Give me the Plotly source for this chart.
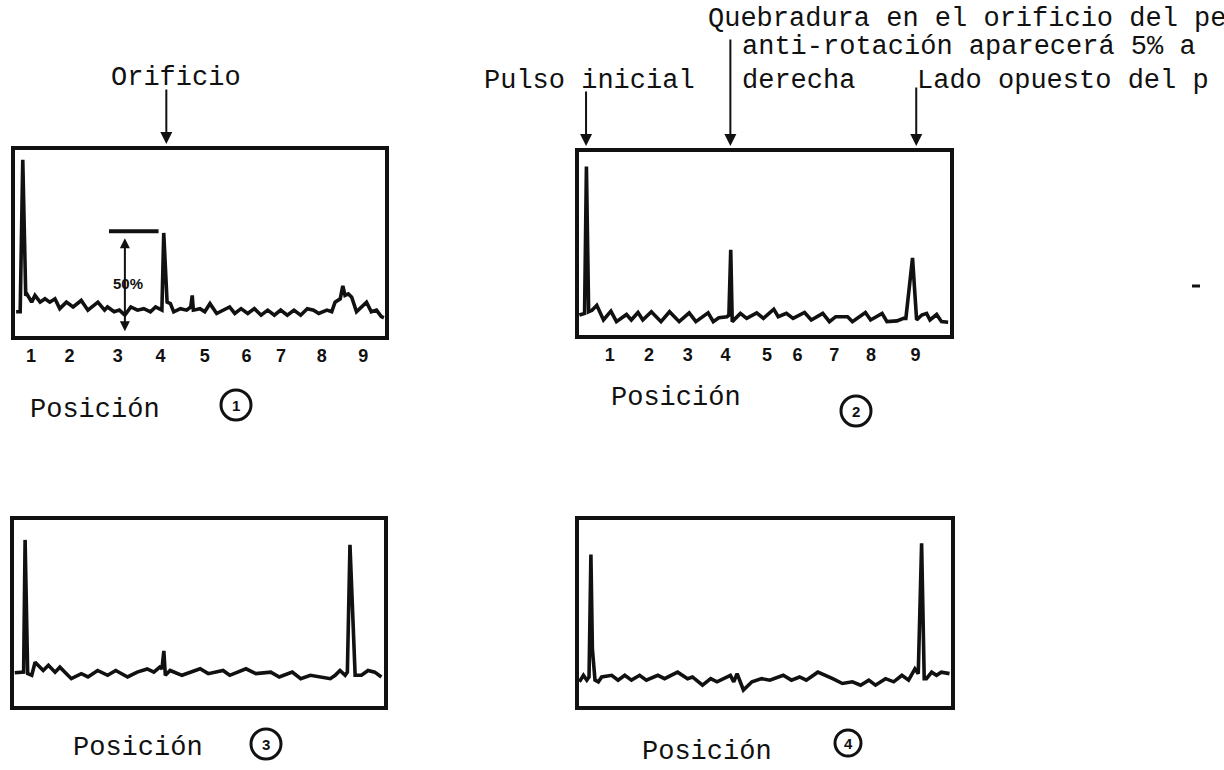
import plotly.graph_objects as go

# ---------------- data (x: % of screen width, y: % of screen height) ----------------
p1_x = [0.3, 1.4, 2.1, 2.9, 3.2, 4.5, 5.4, 6.8, 8.1, 9.4, 10.8, 12.1, 13.9, 15.7, 17.9, 19.7, 22.4, 24.2, 25.0, 26.8,
        28.2, 29.7, 31.3, 33.1, 34.8, 36.6, 38.0, 39.1, 39.7, 40.2, 41.1, 42.0, 42.9, 44.7, 46.4, 47.5, 47.9, 48.2, 50.0, 51.3,
        52.7, 54.5, 56.2, 58.0, 59.4, 61.1, 62.9, 64.7, 66.5, 68.3, 70.1, 71.8, 73.6, 75.4, 77.2, 79.0, 80.7, 82.1, 84.3, 85.6,
        86.5, 87.9, 88.6, 89.2, 90.1, 91.0, 92.3, 93.7, 95.0, 96.3, 97.7, 99.0, 99.7]
p1_y = [13.0, 13.0, 94.7, 21.7, 22.6, 18.2, 21.8, 18.2, 20.0, 18.2, 20.0, 14.7, 18.2, 15.6, 19.1, 13.9, 18.2, 13.9, 15.6, 13.0,
        13.9, 11.2, 15.6, 13.9, 14.7, 13.0, 15.6, 14.7, 13.9, 55.4, 18.2, 17.4, 13.0, 14.7, 13.9, 15.6, 21.8, 13.9, 14.7, 13.0,
        17.4, 12.1, 13.9, 15.6, 12.1, 14.7, 12.1, 14.7, 11.2, 13.9, 11.2, 13.9, 11.2, 13.9, 11.2, 14.7, 13.9, 12.1, 13.9, 13.0,
        18.2, 20.0, 27.0, 21.8, 22.6, 20.9, 13.0, 15.6, 18.2, 13.0, 13.9, 10.4, 9.8]

p2_x = [0.1, 1.2, 1.5, 2.0, 2.6, 3.5, 4.8, 6.6, 8.6, 10.1, 12.8, 14.1, 15.9, 17.2, 19.5, 22.1, 24.4, 27.0, 29.7, 31.5,
        34.8, 36.2, 37.7, 39.9, 40.4, 40.9, 41.3, 43.5, 45.2, 47.9, 49.7, 52.5, 53.7, 55.9, 57.7, 60.8, 62.6, 65.7, 67.5, 69.2,
        72.4, 73.7, 77.2, 78.6, 81.7, 83.0, 85.7, 87.5, 88.1, 89.9, 91.0, 92.4, 93.7, 94.6, 96.4, 97.7, 99.5]
p2_y = [10.9, 11.8, 11.8, 92.0, 12.7, 13.5, 16.2, 8.2, 13.0, 7.3, 11.2, 8.2, 12.3, 8.2, 12.7, 7.3, 12.7, 7.3, 12.1, 7.3,
        12.1, 7.3, 9.4, 10.0, 10.9, 46.5, 7.3, 11.8, 9.1, 12.1, 9.1, 14.1, 10.0, 11.8, 9.1, 12.3, 8.2, 11.8, 7.3, 10.0,
        10.0, 7.3, 12.3, 8.2, 11.8, 7.3, 7.7, 9.1, 9.1, 42.1, 8.2, 10.9, 11.8, 8.2, 11.2, 7.3, 7.0]

p3_x = [0.2, 2.6, 3.0, 3.7, 4.8, 5.7, 7.9, 9.3, 11.1, 12.4, 15.5, 18.2, 20.0, 22.6, 25.3, 27.5, 30.7, 33.3, 36.0, 37.8,
        39.4, 40.0, 40.5, 40.9, 42.2, 45.4, 50.3, 52.5, 56.5, 58.3, 62.7, 65.4, 69.4, 71.7, 75.2, 77.5, 80.1, 83.2, 85.5, 86.8,
        88.1, 89.5, 90.1, 90.8, 92.2, 93.9, 95.7, 97.5, 99.3]
p3_y = [17.9, 18.2, 89.3, 17.4, 16.5, 23.5, 19.1, 21.9, 18.2, 20.9, 14.7, 17.4, 15.6, 19.1, 16.5, 19.1, 15.6, 18.2, 19.9, 18.2,
        20.9, 20.0, 29.6, 16.5, 19.1, 16.5, 20.0, 17.4, 19.1, 16.5, 20.0, 17.4, 18.2, 15.6, 18.2, 14.7, 16.5, 15.6, 14.7, 16.5,
        19.1, 16.5, 18.2, 86.7, 16.5, 16.5, 19.1, 18.2, 15.6]

p4_x = [0.1, 1.2, 2.1, 2.7, 3.2, 3.6, 4.3, 5.2, 6.1, 8.8, 10.5, 12.3, 14.1, 16.3, 18.1, 21.2, 23.0, 26.5, 29.2, 30.5,
        33.2, 35.4, 37.1, 40.7, 41.6, 42.5, 44.2, 46.5, 49.1, 51.3, 54.9, 57.1, 59.3, 61.1, 64.2, 66.4, 68.2, 70.8, 73.5, 75.7,
        77.9, 79.7, 82.4, 84.6, 86.8, 88.6, 90.3, 91.2, 92.1, 92.8, 93.4, 94.8, 96.1, 97.4, 99.6]
p4_y = [13.0, 16.5, 13.9, 15.6, 81.4, 30.5, 13.9, 13.0, 15.6, 16.5, 13.9, 16.5, 13.9, 16.5, 13.9, 16.5, 14.7, 18.2, 14.7, 15.6,
        11.2, 14.7, 13.0, 16.5, 13.0, 17.4, 8.6, 13.0, 14.7, 13.9, 16.5, 13.9, 15.6, 13.9, 18.2, 16.5, 14.7, 12.1, 13.0, 11.2,
        13.9, 11.2, 14.7, 13.0, 16.5, 13.9, 20.0, 17.4, 87.5, 14.7, 14.7, 18.2, 16.5, 18.2, 17.4]

tick_labels = ["1", "2", "3", "4", "5", "6", "7", "8", "9"]
p1_ticks = [4.3, 14.7, 27.8, 39.3, 51.3, 62.6, 71.9, 82.9, 94.1]
p2_ticks = [8.3, 18.9, 29.3, 39.5, 50.7, 58.9, 68.8, 78.7, 90.7]

ref_level = 56.3          # 50% reference bar height (panel 1)
ref_bar = [25.4, 38.8]    # extent of the reference bar
ref_arrow_x = 29.7

W, H = 1224, 770
MONO = "Liberation Mono, Courier New, monospace"
INK = "#111111"
LW = 4  # frame line width

fig = go.Figure()

panels = [
    (p1_x, p1_y, "x", "y"),
    (p2_x, p2_y, "x2", "y2"),
    (p3_x, p3_y, "x3", "y3"),
    (p4_x, p4_y, "x4", "y4"),
]
for xs, ys, xa, ya in panels:
    fig.add_trace(go.Scatter(x=xs, y=ys, xaxis=xa, yaxis=ya, mode="lines",
                             line=dict(color=INK, width=3.6), hoverinfo="skip", showlegend=False))

def px2x(px):
    return px / W

def py2y(py):
    return 1 - py / H

# frame centre-lines (pixels): left, right, top, bottom; the axis line sits outside the domain
frames = {
    1: (13, 387, 148, 338),
    2: (577, 952, 150, 337),
    3: (12, 386, 518, 708),
    4: (577, 953, 518, 708),
}

layout = dict(width=W, height=H, margin=dict(l=0, r=0, t=0, b=0),
              paper_bgcolor="white", plot_bgcolor="white", showlegend=False)
h = LW / 2
for i in range(1, 5):
    l, r, t, b = frames[i]
    xd = [px2x(l + h), px2x(r - h)]
    yd = [py2y(b - h), py2y(t + h)]
    sx = "" if i == 1 else str(i)
    xax = dict(domain=xd, range=[0, 100], showgrid=False, zeroline=False,
               showline=True, mirror=True, linecolor=INK, linewidth=LW,
               anchor="y" + sx, fixedrange=True)
    if i in (1, 2):
        xax.update(tickmode="array", tickvals=p1_ticks if i == 1 else p2_ticks,
                   ticktext=tick_labels, ticks="", showticklabels=True,
                   tickfont=dict(family="Liberation Sans Narrow, Liberation Sans, Arial", size=18,
                                 color=INK, weight="bold"))
    else:
        xax.update(showticklabels=False, ticks="")
    yax = dict(domain=yd, range=[0, 100], showgrid=False, zeroline=False,
               showline=True, mirror=True, linecolor=INK, linewidth=LW,
               showticklabels=False, ticks="", anchor="x" + sx, fixedrange=True)
    layout["xaxis" + sx] = xax
    layout["yaxis" + sx] = yax

fig.update_layout(**layout)

# 50% reference bar and double arrow (panel 1)
fig.add_shape(type="line", xref="x", yref="y", x0=ref_bar[0], x1=ref_bar[1],
              y0=ref_level, y1=ref_level, line=dict(color=INK, width=4))
fig.add_annotation(xref="x", yref="y", x=ref_arrow_x, y=2.5, ax=ref_arrow_x, ay=ref_level - 3,
                   axref="x", ayref="y", text="", showarrow=True, arrowhead=2, startarrowhead=2,
                   arrowside="end+start", arrowsize=1, arrowwidth=2, arrowcolor=INK)
fig.add_annotation(xref="x", yref="y", x=ref_arrow_x + 0.8, y=28, text="<b>50%</b>", showarrow=False,
                   font=dict(family="Liberation Sans, Arial", size=15, color=INK))

# Callout arrows
def callout(xref, xval, head_py, tail_len):
    fig.add_annotation(xref=xref, yref="paper", x=xval, y=py2y(head_py), ax=0, ay=-tail_len,
                       text="", showarrow=True, arrowhead=2, arrowsize=1.2, arrowwidth=2, arrowcolor=INK)

callout("x", 40.9, 144, 56)     # Orificio
callout("x2", 1.9, 146, 56)     # Pulso inicial
callout("x2", 40.8, 146, 108)   # Quebradura
callout("x2", 90.9, 146, 60)    # Lado opuesto

def label(text, px, py, anchor="left", size=27):
    fig.add_annotation(xref="paper", yref="paper", x=px2x(px), y=py2y(py), text=text,
                       showarrow=False, xanchor=anchor, yanchor="middle",
                       font=dict(family=MONO, size=size, color=INK))

label("Orificio", 176, 78, "center")
label("Pulso inicial", 482, 81)
label("Quebradura en el orificio del pe", 706, 19)
label("anti-rotación aparecerá 5% a", 740, 47)
label("derecha", 740, 81)
label("Lado opuesto del p", 915, 81)
label("Posición", 95, 410, "center")
label("Posición", 676, 398, "center")
label("Posición", 138, 748, "center")
label("Posición", 707, 752, "center")

# circled panel numbers
for num, cx, cy, r in [("1", 236, 405, 15), ("2", 856, 411, 15), ("3", 266, 744, 15), ("4", 848, 743, 13)]:
    fig.add_shape(type="circle", xref="paper", yref="paper",
                  x0=px2x(cx - r), x1=px2x(cx + r), y0=py2y(cy + r), y1=py2y(cy - r),
                  line=dict(color=INK, width=3))
    fig.add_annotation(xref="paper", yref="paper", x=px2x(cx), y=py2y(cy), text="<b>" + num + "</b>",
                       showarrow=False, xanchor="center", yanchor="middle",
                       font=dict(family="Liberation Sans, Arial", size=15, color=INK))

# stray dash on the right margin of the scan
fig.add_shape(type="line", xref="paper", yref="paper", x0=px2x(1192), x1=px2x(1200),
              y0=py2y(286), y1=py2y(286), line=dict(color=INK, width=3))

fig.write_html("out.html", config={"displayModeBar": False},
               post_script="document.body.style.margin='0';document.body.style.overflow='hidden';")
